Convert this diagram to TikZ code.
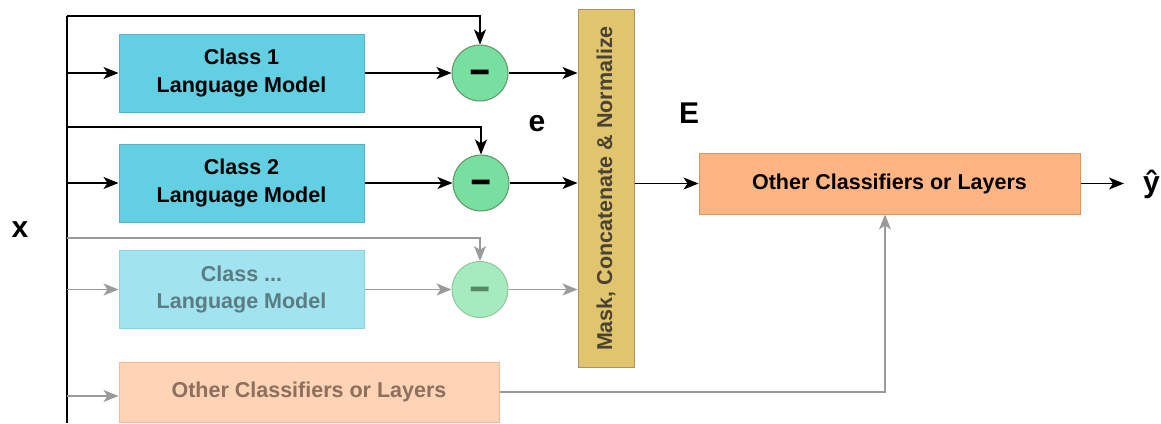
\documentclass[tikz,border=0pt]{standalone}
\usepackage{fontspec}
\setmainfont{Liberation Sans}
\usetikzlibrary{arrows.meta,calc}

\definecolor{lmfill}{HTML}{62D0E2}
\definecolor{lmdraw}{HTML}{56B4C6}
\definecolor{lmfadefill}{HTML}{A1E3EE}
\definecolor{lmfadedraw}{HTML}{8CD3E0}
\definecolor{lmfadetext}{HTML}{5B7C82}
\definecolor{subfill}{HTML}{77E0A0}
\definecolor{subdraw}{HTML}{5E9468}
\definecolor{subfadefill}{HTML}{A6EBC0}
\definecolor{subfadedraw}{HTML}{8FC79B}
\definecolor{subfadetext}{HTML}{568A66}
\definecolor{maskfill}{HTML}{E0C46E}
\definecolor{maskdraw}{HTML}{AE9064}
\definecolor{masktext}{HTML}{4B4331}
\definecolor{ocfill}{HTML}{FFB583}
\definecolor{ocdraw}{HTML}{E0925C}
\definecolor{ocfadefill}{HTML}{FFD3B5}
\definecolor{ocfadedraw}{HTML}{F5B993}
\definecolor{ocfadetext}{HTML}{8D6F5D}
\definecolor{fadeline}{HTML}{9A9A9A}

\newcommand\boxfont{\fontsize{21.5}{27.5}\selectfont\bfseries}
\newcommand\lblfont{\fontsize{30}{30}\selectfont\bfseries}
% bold bar centred on the baseline, so the node centres it
\newcommand\subsign{{\fontsize{54}{54}\selectfont\bfseries
  \smash{\scalebox{1.3}[0.72]{\raisebox{-0.255em}{-}}}}}

\begin{document}
\begin{tikzpicture}[x=1pt,y=-1pt,
  wire/.style={line width=1.2pt, black},
  fwire/.style={line width=1.2pt, fadeline},
  arr/.style={-{Stealth[length=15pt,width=12pt,inset=4pt]}},
  lm/.style={draw=lmdraw, fill=lmfill, line width=1pt, minimum width=245pt,
    minimum height=78pt, inner sep=0pt, align=center, font=\boxfont},
  lmfade/.style={lm, draw=lmfadedraw, fill=lmfadefill, text=lmfadetext},
  subop/.style={circle, draw=subdraw, fill=subfill, line width=1pt,
    minimum size=56pt, inner sep=0pt},
  subfade/.style={subop, draw=subfadedraw, fill=subfadefill, text=subfadetext},
  maskbox/.style={draw=maskdraw, fill=maskfill, line width=1pt, minimum width=56pt,
    minimum height=358pt, inner sep=0pt, text=masktext, font=\boxfont},
  oc/.style={draw=ocdraw, fill=ocfill, line width=1pt, minimum width=381pt,
    minimum height=61pt, inner sep=0pt, font=\boxfont},
  ocfade/.style={oc, draw=ocfadedraw, fill=ocfadefill, text=ocfadetext,
    minimum width=380pt, minimum height=60pt},
  lbl/.style={inner sep=0pt, font=\lblfont}
]
\useasboundingbox (0,0) rectangle (1161,423);

% input bus and its taps
\coordinate (t1) at (67,16);
\coordinate (t2) at (67,127);
\coordinate (t3) at (67,238);
\coordinate (b1) at (67,73);
\coordinate (b2) at (67,183);
\coordinate (b3) at (67,289.5);
\coordinate (b4) at (67,396);
\coordinate (busend) at (67,423);

% blocks
\node[lm] (lm1) at (241.5,73) {Class 1\\Language Model};
\node[lm] (lm2) at (241.5,183) {Class 2\\Language Model};
\node[lmfade] (lm3) at (241.5,289.5) {Class ...\\Language Model};
\node[ocfade] (ocf) at (309,392) {Other Classifiers or Layers};

\node[subop] (s1) at (480,73) {\subsign};
\node[subop] (s2) at (481,183) {\subsign};
\node[subfade] (s3) at (480,289.5) {\subsign};

\node[maskbox] (mask) at (606,188.5) {\rotatebox{90}{Mask, Concatenate \& Normalize}};
\node[oc] (oc) at (889.5,183.5) {Other Classifiers or Layers};

% labels
\node[lbl] (x) at (20,229.5) {x};
\node[lbl] (e) at (537,123.3) {e};
\node[lbl] (E) at (689,113.3) {E};
\node[lbl] (y) at (1151.5,184) {ŷ};

% bus
\draw[wire] (t1) -- (busend);

% class rows
\draw[wire,arr] (t1) -| (s1.north);
\draw[wire,arr] (b1) -- (lm1.west);
\draw[wire,arr] (lm1.east) -- (s1.west);
\draw[wire,arr] (s1.east) -- (s1.east -| mask.west);

\draw[wire,arr] (t2) -| (s2.north);
\draw[wire,arr] (b2) -- (lm2.west);
\draw[wire,arr] (lm2.east) -- (s2.west);
\draw[wire,arr] (s2.east) -- (s2.east -| mask.west);

\draw[fwire,arr] (t3) -| (s3.north);
\draw[fwire,arr] (b3) -- (lm3.west);
\draw[fwire,arr] (lm3.east) -- (s3.west);
\draw[fwire,arr] (s3.east) -- (s3.east -| mask.west);

% side branch
\draw[fwire,arr] (b4) -- (b4 -| ocf.west);
\draw[fwire,arr] (ocf.east) -| ($(oc.south)+(-4.5,0)$);

% output
\draw[wire,arr] (mask.east |- oc.west) -- (oc.west);
\draw[wire,arr,shorten >=19pt] (oc.east) -- (oc.east -| y.west);
\end{tikzpicture}
\end{document}
